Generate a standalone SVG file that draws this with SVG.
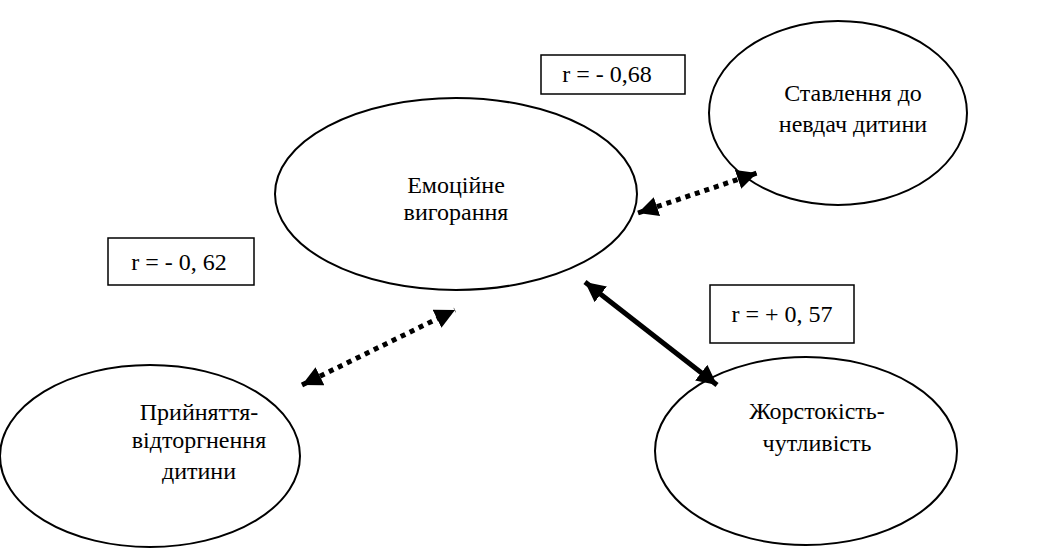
<svg xmlns="http://www.w3.org/2000/svg" width="1045" height="549" viewBox="0 0 1045 549">
<defs>
<marker id="ah" viewBox="0 0 10 10" refX="10" refY="5" markerWidth="4" markerHeight="4" orient="auto-start-reverse" markerUnits="strokeWidth">
<path d="M0,0 L10,5 L0,10 z" fill="#000"/>
</marker>
</defs>
<style>
.n{fill:#fff;stroke:#000;stroke-width:2}
.b{fill:#fff;stroke:#000;stroke-width:1.5}
text{font-family:"Liberation Serif","DejaVu Serif",serif;font-size:24px;fill:#000;text-anchor:middle}
.d{stroke:#000;stroke-width:5;stroke-dasharray:5 5;fill:none}
.s{stroke:#000;stroke-width:5;fill:none}
</style>
<g id="n1"><ellipse class="n" cx="456" cy="194" rx="181" ry="96"/><text x="456" y="193">Емоційне</text><text x="456" y="220">вигорання</text></g>
<g id="n2"><ellipse class="n" cx="838" cy="113" rx="129" ry="92"/><text x="853" y="101">Ставлення до</text><text x="853" y="132">невдач дитини</text></g>
<g id="n3"><ellipse class="n" cx="150" cy="456" rx="150" ry="91"/><text x="199" y="420">Прийняття-</text><text x="199" y="448">відторгнення</text><text x="199" y="479">дитини</text></g>
<g id="n4"><ellipse class="n" cx="806" cy="451" rx="151" ry="94"/><text x="817" y="419">Жорстокість-</text><text x="817" y="451">чутливість</text></g>
<g id="b1"><rect class="b" x="541" y="55" width="144" height="39"/><text x="607" y="82">r = - 0,68</text></g>
<g id="b2"><rect class="b" x="108" y="238" width="146" height="47"/><text x="179" y="270">r = - 0, 62</text></g>
<g id="b3"><rect class="b" x="710" y="285" width="144" height="58"/><text x="782" y="322">r = + 0, 57</text></g>
<g id="connectors">
<line class="d" x1="638" y1="213" x2="757" y2="173" marker-start="url(#ah)" marker-end="url(#ah)"/>
<line class="d" x1="302" y1="385" x2="455" y2="310" marker-start="url(#ah)" marker-end="url(#ah)"/>
<line class="s" x1="585" y1="282" x2="717" y2="385" marker-start="url(#ah)" marker-end="url(#ah)"/>
</g>
</svg>
